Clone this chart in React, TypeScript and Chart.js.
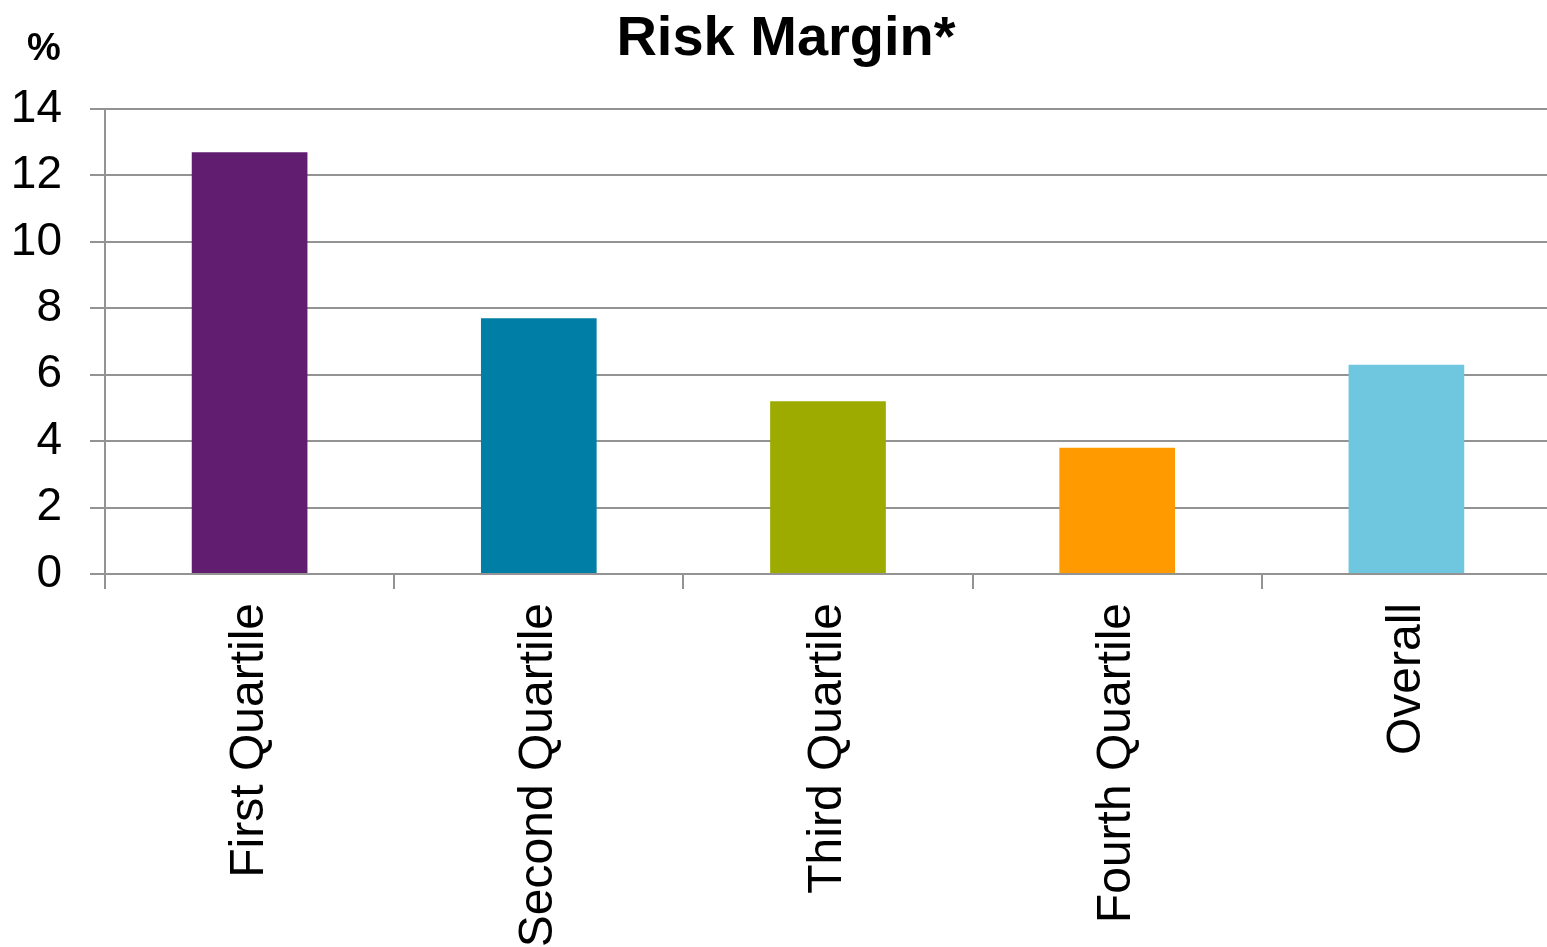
import React, { useEffect, useRef } from "react";
import { Chart, registerables } from "chart.js";

Chart.register(...registerables);

const categories: string[] = [
  "First Quartile",
  "Second Quartile",
  "Third Quartile",
  "Fourth Quartile",
  "Overall",
];
const riskMargin: number[] = [12.7, 7.7, 5.2, 3.8, 6.3];
const barColors: string[] = ["#611E71", "#007EA5", "#9DAA00", "#FF9A00", "#6EC6DF"];
const yTicks: number[] = [0, 2, 4, 6, 8, 10, 12, 14];

const chartTitle = "Risk Margin*";
const unitLabel = "%";

const FONT = "'Liberation Sans', Arial, sans-serif";
const GRID = "#939393";

// Draws the centred heading and the unit marker above the value axis.
const headingPlugin = {
  id: "heading",
  afterDraw(chart: Chart) {
    const { ctx } = chart;
    ctx.save();
    ctx.fillStyle = "#000";
    ctx.textBaseline = "alphabetic";
    ctx.textAlign = "center";
    ctx.font = `bold 56px ${FONT}`;
    ctx.fillText(chartTitle, 786, 55);
    ctx.font = `bold 38px ${FONT}`;
    ctx.fillText(unitLabel, 44, 60);
    ctx.restore();
  },
};

export default function App() {
  const canvasRef = useRef<HTMLCanvasElement | null>(null);

  useEffect(() => {
    document.body.style.margin = "0";
    const canvas = canvasRef.current;
    if (!canvas) return;
    const chart = new Chart(canvas, {
      type: "bar",
      data: {
        labels: categories,
        datasets: [
          {
            label: chartTitle,
            data: riskMargin,
            backgroundColor: barColors,
            borderWidth: 0,
            barPercentage: 0.4,
            categoryPercentage: 1.0,
          },
        ],
      },
      options: {
        responsive: false,
        animation: false,
        layout: { padding: { top: 109, left: 0, right: 0, bottom: 0 } },
        plugins: {
          legend: { display: false },
          title: { display: false },
          tooltip: { enabled: false },
        },
        scales: {
          x: {
            offset: true,
            grid: {
              offset: true,
              drawOnChartArea: false,
              drawTicks: true,
              tickLength: 15,
              color: GRID,
              lineWidth: 2,
            },
            border: { display: true, color: GRID, width: 2 },
            ticks: {
              autoSkip: false,
              minRotation: 90,
              maxRotation: 90,
              padding: 14,
              color: "#000",
              font: { family: FONT, size: 48 },
            },
            afterFit(scale: any) {
              scale.height = 373;
            },
          },
          y: {
            min: 0,
            max: 14,
            afterBuildTicks(scale: any) {
              scale.ticks = yTicks.map((v) => ({ value: v }));
            },
            grid: {
              color: GRID,
              lineWidth: 2,
              tickLength: 15,
            },
            border: { display: true, color: GRID, width: 2 },
            ticks: {
              padding: 28,
              color: "#000",
              font: { family: FONT, size: 46 },
            },
            afterFit(scale: any) {
              scale.width = 105;
            },
          },
        },
      },
      plugins: [headingPlugin],
    });
    return () => chart.destroy();
  }, []);

  // The plot runs slightly past the right edge of the frame, so the canvas is
  // a little wider than its clipping container.
  return (
    <div style={{ width: 1547, height: 947, overflow: "hidden", background: "#fff" }}>
      <canvas ref={canvasRef} width={1551} height={947} style={{ display: "block" }} />
    </div>
  );
}
